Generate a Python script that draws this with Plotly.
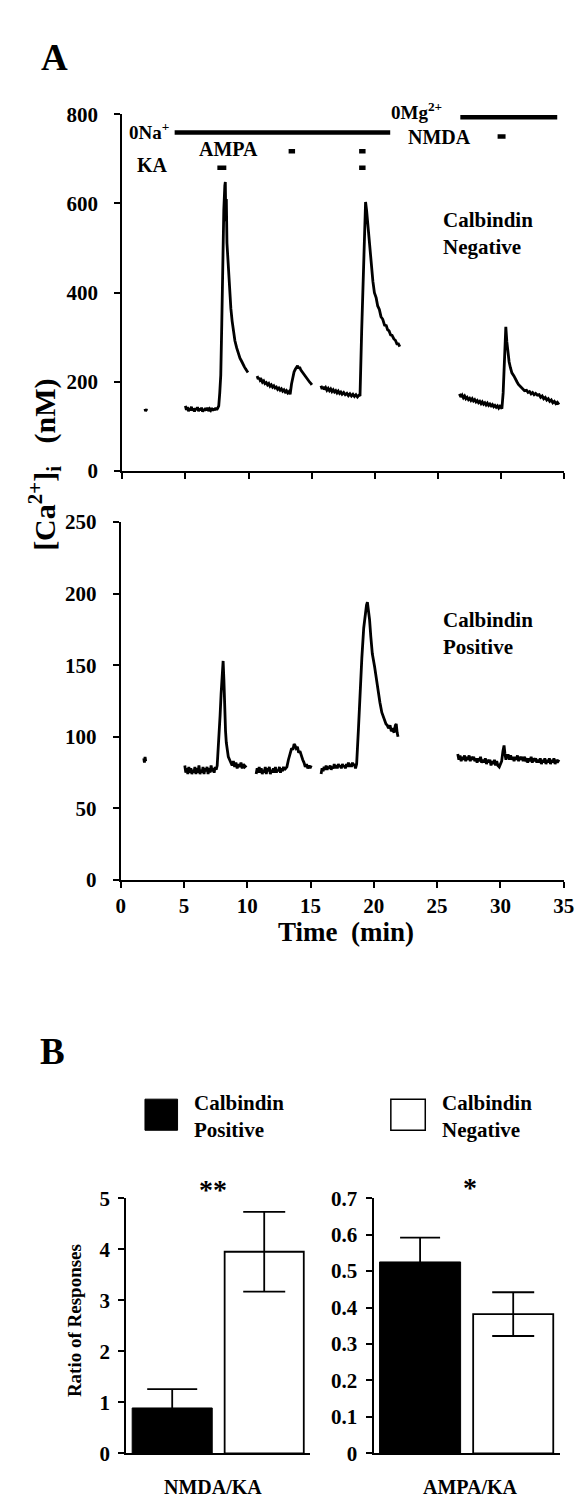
import plotly.graph_objects as go

W, H = 583, 1501
FONT = "Liberation Serif"

# ---------------- Panel A data: [Ca2+]i traces (time in min, conc in nM) ----------------
neg_time = [1.80, 1.85, 1.90, 1.95, None,
            5.00, 5.08, 5.16, 5.24, 5.32, 5.40, 5.48, 5.56, 5.64, 5.72, 5.80, 5.88, 5.96, 6.04, 6.12, 6.20,
            6.28, 6.36, 6.44, 6.52, 6.60, 6.68, 6.76, 6.84, 6.92, 7.00, 7.08, 7.16, 7.24, 7.32, 7.40, 7.48,
            7.56, 7.64, 7.72, 7.80, 7.88, 7.96, 8.04, 8.12, 8.16, 8.20, 8.24, 8.29, 8.36, 8.42, 8.50, 8.60,
            8.70, 8.80, 8.92, 9.06, 9.20, 9.32, 9.45, 9.56, 9.66, 9.76, 9.88, 9.95, None,
            10.68, 10.76, 10.84, 10.92, 11.00, 11.10, 11.20, 11.30, 11.40, 11.50, 11.60, 11.70, 11.80, 11.90,
            12.00, 12.10, 12.20, 12.30, 12.40, 12.50, 12.60, 12.70, 12.80, 12.90, 13.00, 13.10, 13.20, 13.29,
            13.40, 13.50, 13.60, 13.70, 13.80, 13.88, 13.96, 14.04, 14.14, 14.24, 14.34, 14.44, 14.54, 14.64,
            14.74, 14.84, 14.94, 15.01, None,
            15.73, 15.82, 15.91, 16.00, 16.10, 16.20, 16.30, 16.40, 16.50, 16.60, 16.70, 16.80, 16.90, 17.00,
            17.10, 17.20, 17.30, 17.40, 17.53, 17.65, 17.78, 17.90, 18.02, 18.14, 18.26, 18.38, 18.50, 18.62,
            18.74, 18.82, 18.95, 19.10, 19.20, 19.26, 19.34, 19.42, 19.52, 19.62, 19.74, 19.84, 19.96, 20.10,
            20.22, 20.35, 20.48, 20.62, 20.76, 20.90, 21.00, 21.12, 21.24, 21.36, 21.50, 21.62, 21.74, 21.86,
            21.97, None,
            26.69, 26.80, 26.90, 27.00, 27.10, 27.20, 27.30, 27.40, 27.50, 27.60, 27.70, 27.80, 27.90, 28.00,
            28.10, 28.20, 28.30, 28.40, 28.50, 28.60, 28.70, 28.80, 28.90, 29.00, 29.10, 29.20, 29.30, 29.40,
            29.50, 29.60, 29.70, 29.80, 29.90, 30.05, 30.15, 30.26, 30.36, 30.44, 30.52, 30.62, 30.72, 30.84,
            31.00, 31.12, 31.24, 31.36, 31.48, 31.60, 31.72, 31.84, 32.00, 32.12, 32.24, 32.36, 32.48, 32.60,
            32.72, 32.86, 33.00, 33.12, 33.24, 33.36, 33.48, 33.60, 33.72, 33.84, 33.96, 34.08, 34.20, 34.32,
            34.44, 34.57]
neg_conc = [139, 134, 138, 135, None,
            146, 137, 143, 134, 141, 136, 144, 135, 140, 133, 141, 137, 143, 134, 140, 136,
            142, 133, 139, 135, 141, 136, 142, 134, 139, 136, 141, 135, 140, 136, 142, 137,
            141, 146, 175, 215, 330, 470, 585, 640, 648, 560, 610, 511, 470, 437, 400, 364,
            336, 312, 292, 276, 262, 253, 246, 238, 234, 229, 224, 221, None,
            213, 206, 209, 203, 205, 199, 202, 196, 198, 193, 196, 190, 193, 188,
            191, 186, 188, 183, 186, 181, 184, 179, 182, 177, 180, 175, 178, 172,
            195, 212, 222, 228, 232, 236, 230, 233, 226, 222, 217, 214, 209, 206,
            202, 199, 196, 193, None,
            191, 184, 189, 183, 187, 181, 185, 180, 184, 178, 182, 177, 180, 175,
            179, 174, 177, 172, 176, 171, 174, 169, 173, 168, 172, 167, 171, 166,
            170, 168, 312, 470, 570, 603, 585, 560, 520, 484, 444, 425, 400, 388,
            370, 362, 346, 340, 327, 326, 317, 314, 305, 304, 296, 293, 285, 285,
            279, None,
            173, 166, 170, 164, 168, 162, 165, 160, 163, 158, 162, 157, 160, 155,
            158, 153, 156, 151, 155, 150, 153, 148, 152, 147, 150, 146, 149, 144,
            147, 143, 146, 141, 145, 140, 175, 260, 323, 290, 268, 245, 232, 220,
            213, 205, 200, 194, 190, 186, 184, 180, 181, 176, 178, 173, 176, 171,
            174, 170, 171, 165, 168, 162, 165, 159, 162, 156, 159, 153, 156, 151,
            154, 149]

pos_time = [1.82, 1.87, 1.92, 1.97, None,
            5.06, 5.14, 5.22, 5.30, 5.38, 5.46, 5.54, 5.62, 5.70, 5.78, 5.86, 5.94, 6.02, 6.10, 6.18, 6.26,
            6.34, 6.42, 6.50, 6.58, 6.66, 6.74, 6.82, 6.90, 6.98, 7.06, 7.14, 7.22, 7.30, 7.38, 7.46, 7.54,
            7.62, 7.75, 7.85, 7.93, 8.02, 8.09, 8.15, 8.21, 8.28, 8.34, 8.42, 8.50, 8.60, 8.70, 8.80, 8.90,
            9.00, 9.10, 9.20, 9.30, 9.40, 9.50, 9.60, 9.70, 9.80, 9.93, None,
            10.70, 10.78, 10.86, 10.94, 11.02, 11.10, 11.18, 11.26, 11.34, 11.42, 11.50, 11.58, 11.66, 11.74,
            11.82, 11.90, 11.98, 12.06, 12.14, 12.22, 12.30, 12.38, 12.46, 12.54, 12.62, 12.70, 12.78, 12.86,
            12.94, 13.02, 13.13, 13.25, 13.39, 13.50, 13.60, 13.70, 13.77, 13.86, 13.96, 14.06, 14.16, 14.28,
            14.38, 14.48, 14.58, 14.68, 14.78, 14.88, 14.96, 15.05, None,
            15.83, 15.91, 15.99, 16.07, 16.15, 16.23, 16.31, 16.39, 16.47, 16.55, 16.63, 16.71, 16.79, 16.87,
            16.95, 17.03, 17.11, 17.19, 17.27, 17.35, 17.43, 17.51, 17.59, 17.67, 17.75, 17.83, 17.91, 17.99,
            18.07, 18.15, 18.23, 18.31, 18.39, 18.47, 18.55, 18.64, 18.78, 18.90, 19.05, 19.20, 19.32, 19.42,
            19.49, 19.56, 19.66, 19.76, 19.88, 20.06, 20.20, 20.34, 20.48, 20.63, 20.74, 20.84, 20.96, 21.06,
            21.16, 21.28, 21.38, 21.49, 21.60, 21.70, 21.77, 21.84, 21.91, None,
            26.63, 26.72, 26.81, 26.90, 26.99, 27.08, 27.17, 27.26, 27.35, 27.44, 27.53, 27.62, 27.71, 27.80,
            27.89, 27.98, 28.07, 28.16, 28.25, 28.34, 28.43, 28.52, 28.63, 28.72, 28.81, 28.90, 28.99, 29.08,
            29.17, 29.26, 29.35, 29.44, 29.53, 29.62, 29.71, 29.80, 29.91, 30.00, 30.10, 30.20, 30.29, 30.36,
            30.44, 30.52, 30.63, 30.72, 30.81, 30.90, 30.99, 31.08, 31.17, 31.26, 31.35, 31.44, 31.53, 31.62,
            31.71, 31.80, 31.89, 31.98, 32.07, 32.16, 32.25, 32.34, 32.43, 32.52, 32.61, 32.70, 32.79, 32.88,
            32.97, 33.06, 33.15, 33.24, 33.33, 33.42, 33.51, 33.60, 33.69, 33.78, 33.87, 33.96, 34.05, 34.14,
            34.23, 34.32, 34.41, 34.50, 34.63]
pos_conc = [85, 82, 86, 83, None,
            80, 75, 78, 74, 79, 75, 78, 74, 77, 75, 79, 74, 78, 75, 80, 74,
            77, 75, 79, 74, 78, 76, 79, 74, 78, 75, 80, 76, 78, 75, 79, 77,
            80, 96, 115, 130, 146, 153, 140, 118, 104, 96, 90, 86, 84, 82, 80, 83,
            79, 82, 78, 81, 79, 82, 78, 81, 79, 80, None,
            74, 78, 75, 79, 75, 78, 74, 77, 75, 79, 74, 78, 76, 79,
            74, 77, 75, 78, 75, 79, 75, 77, 76, 79, 75, 78, 76, 79,
            77, 78, 79, 84, 89, 92, 91, 95, 94, 92, 93, 89, 90, 86,
            84, 82, 79, 81, 78, 80, 78, 80, None,
            74, 78, 76, 79, 77, 80, 77, 79, 78, 80, 77, 79, 78, 81,
            78, 80, 78, 81, 79, 80, 78, 81, 79, 80, 78, 81, 79, 82,
            79, 81, 79, 82, 80, 81, 78, 81, 105, 130, 155, 176, 186, 192,
            194, 190, 182, 170, 158, 149, 140, 133, 124, 117, 114, 111, 109, 108,
            106, 108, 104, 105, 103, 108, 109, 103, 100, None,
            88, 84, 87, 83, 86, 84, 87, 83, 86, 84, 87, 83, 86, 84,
            86, 83, 85, 82, 85, 83, 86, 82, 84, 82, 85, 81, 84, 82,
            84, 80, 83, 81, 84, 80, 83, 80, 79, 81, 83, 90, 94, 88,
            84, 87, 87, 84, 87, 84, 86, 83, 86, 84, 87, 83, 86, 84,
            86, 83, 86, 84, 85, 82, 85, 83, 86, 82, 85, 83, 85, 82,
            84, 82, 85, 81, 84, 82, 85, 81, 84, 82, 85, 81, 84, 82,
            85, 81, 84, 82, 84]

# Solution changes (long bars) and drug applications (short dashes), minutes
na_free_period = [4.15, 21.21]
na_free_level = 759
mg_free_period = [26.76, 34.43]
mg_free_level = 793
ka_applications = [[7.53, 8.24], [18.75, 19.26]]
ka_level = 680
ampa_applications = [[13.17, 13.68], [18.75, 19.26]]
ampa_level = 717
nmda_applications = [[29.71, 30.34]]
nmda_level = 750

time_ticks = [0, 5, 10, 15, 20, 25, 30, 35]
neg_ticks = [0, 200, 400, 600, 800]
pos_ticks = [0, 50, 100, 150, 200, 250]

# ---------------- Panel B data: ratio of responses ----------------
ratio_groups = ["NMDA/KA", "AMPA/KA"]
ratio_positive = [0.89, 0.525]
ratio_positive_err = [0.37, 0.067]
ratio_negative = [3.95, 0.382]
ratio_negative_err = [0.78, 0.06]
nmda_ticks = [0, 1, 2, 3, 4, 5]
ampa_ticks = [0, 0.1, 0.2, 0.3, 0.4, 0.5, 0.6, 0.7]
ampa_tick_text = ["0", "0.1", "0.2", "0.3", "0.4", "0.5", "0.6", "0.7"]


def px(x):
    return x / W


def py(y):
    return 1 - y / H


fig = go.Figure()

# traces
fig.add_trace(go.Scatter(x=neg_time, y=neg_conc, mode="lines", connectgaps=False,
                         line=dict(color="black", width=2.8), xaxis="x", yaxis="y", showlegend=False))
fig.add_trace(go.Scatter(x=pos_time, y=pos_conc, mode="lines", connectgaps=False,
                         line=dict(color="black", width=2.8), xaxis="x2", yaxis="y2", showlegend=False))

# solution bars
fig.add_trace(go.Scatter(x=na_free_period, y=[na_free_level] * 2, mode="lines",
                         line=dict(color="black", width=4.5), xaxis="x", yaxis="y", showlegend=False))
fig.add_trace(go.Scatter(x=mg_free_period, y=[mg_free_level] * 2, mode="lines",
                         line=dict(color="black", width=4.5), xaxis="x", yaxis="y", showlegend=False))
for apps, lvl in [(ka_applications, ka_level), (ampa_applications, ampa_level), (nmda_applications, nmda_level)]:
    for a in apps:
        fig.add_trace(go.Scatter(x=a, y=[lvl, lvl], mode="lines",
                                 line=dict(color="black", width=4.5), xaxis="x", yaxis="y", showlegend=False))

# bars panel B
fig.add_trace(go.Bar(x=[0], y=[ratio_positive[0]], width=0.87, marker=dict(color="black", line=dict(color="black", width=1)),
                     error_y=dict(type="data", array=[ratio_positive_err[0]], color="black", thickness=1.8, width=25),
                     xaxis="x3", yaxis="y3", showlegend=False))
fig.add_trace(go.Bar(x=[1], y=[ratio_negative[0]], width=0.86, marker=dict(color="white", line=dict(color="black", width=1.8)),
                     error_y=dict(type="data", array=[ratio_negative_err[0]], color="black", thickness=1.8, width=21),
                     xaxis="x3", yaxis="y3", showlegend=False))
fig.add_trace(go.Bar(x=[0], y=[ratio_positive[1]], width=0.87, marker=dict(color="black", line=dict(color="black", width=1)),
                     error_y=dict(type="data", array=[ratio_positive_err[1]], color="black", thickness=1.8, width=20),
                     xaxis="x4", yaxis="y4", showlegend=False))
fig.add_trace(go.Bar(x=[1], y=[ratio_negative[1]], width=0.86, marker=dict(color="white", line=dict(color="black", width=1.8)),
                     error_y=dict(type="data", array=[ratio_negative_err[1]], color="black", thickness=1.8, width=21),
                     xaxis="x4", yaxis="y4", showlegend=False))

tickfont = dict(family=FONT, size=21, color="black", weight="bold")
base = dict(showline=True, linecolor="black", linewidth=2, ticks="outside", ticklen=6, tickwidth=1.5,
            tickcolor="black", showgrid=False, zeroline=False, tickfont=tickfont, fixedrange=True)

fig.update_layout(
    width=W, height=H, margin=dict(l=0, r=0, t=0, b=0),
    paper_bgcolor="white", plot_bgcolor="white", showlegend=False,
    xaxis=dict(base, domain=[px(112.3), px(567)], range=[0, 35], tickvals=time_ticks, showticklabels=False, anchor="y"),
    yaxis=dict(base, domain=[py(458.3), py(95.7)], range=[0, 800], tickvals=neg_ticks, anchor="x",
               ticklabelstandoff=12),
    xaxis2=dict(base, domain=[px(110.8), px(566.2)], range=[0, 35], tickvals=time_ticks, anchor="y2",
                ticklabelstandoff=0),
    yaxis2=dict(base, domain=[py(874), py(510.2)], range=[0, 250], tickvals=pos_ticks, anchor="x2",
                ticklabelstandoff=12),
    xaxis3=dict(base, domain=[px(116.4), px(305.6)], range=[-0.5, 1.5], ticks="", showticklabels=False, anchor="y3"),
    yaxis3=dict(base, domain=[py(1456.7), py(1197.3)], range=[0, 5], tickvals=nmda_ticks, anchor="x3",
                ticklabelstandoff=4),
    xaxis4=dict(base, domain=[px(370.7), px(562.2)], range=[-0.5, 1.5], ticks="", showticklabels=False, anchor="y4"),
    yaxis4=dict(base, domain=[py(1456.7), py(1197.3)], range=[0, 0.7], tickvals=ampa_ticks,
                ticktext=ampa_tick_text, anchor="x4", ticklabelstandoff=4),
)


def ann(text, x, y, size, xanchor="center", yanchor="middle", angle=0, align="center"):
    fig.add_annotation(text=text, x=x, y=y, xref="paper", yref="paper", showarrow=False,
                       xanchor=xanchor, yanchor=yanchor, textangle=angle, align=align,
                       font=dict(family=FONT, size=size, color="black", weight="bold"))


# panel letters
ann("A", px(43), py(38), 37)
ann("B", px(41), py(1048), 37)

# panel A labels
ann("0Na<sup>+</sup>", px(117), py(113), 19, xanchor="left")
ann("0Mg<sup>2+</sup>", px(387), py(92), 19, xanchor="left")
ann("NMDA", px(404), py(119), 20, xanchor="left")
ann("AMPA", px(189), py(131), 20, xanchor="left")
ann("KA", px(125), py(147), 20, xanchor="left")
ann("Calbindin<br>Negative", px(440), py(217), 21, xanchor="left", align="left")
ann("Calbindin<br>Positive", px(440), py(623), 21, xanchor="left", align="left")
ann("Time  (min)", px(342), py(927), 27)
ann("[Ca<sup>2+</sup>]<sub>i</sub>   (nM)", px(33), py(452), 30, angle=-90)

# panel B labels
ann("Ratio of Responses", px(64), py(1322), 19, angle=-90)
ann("NMDA/KA", px(206), py(1491), 20)
ann("AMPA/KA", px(470), py(1491), 20)
ann("**", px(206), py(1188), 28)
ann("*", px(470), py(1186), 28)

# legend
fig.add_shape(type="rect", xref="paper", yref="paper", x0=px(135.7), x1=px(169.2), y0=py(1128.3), y1=py(1096.7),
              fillcolor="black", line=dict(color="black", width=1))
fig.add_shape(type="rect", xref="paper", yref="paper", x0=px(388.5), x1=px(423.9), y0=py(1128.3), y1=py(1096.7),
              fillcolor="white", line=dict(color="black", width=1.5))
ann("Calbindin<br>Positive", px(184), py(1114), 21, xanchor="left", align="left")
ann("Calbindin<br>Negative", px(439), py(1114), 21, xanchor="left", align="left")

fig.write_html("out.html")
